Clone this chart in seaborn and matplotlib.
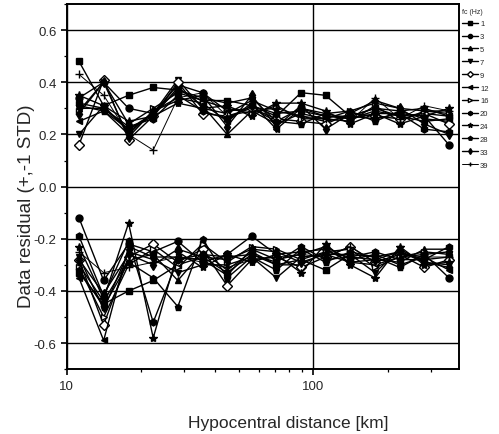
import numpy as np
import pandas as pd
import seaborn as sns
import matplotlib.pyplot as plt
from matplotlib.ticker import MultipleLocator, FixedLocator, NullFormatter

# hypocentral distance bins [km]
distance = [11.2, 14.1, 17.8, 22.4, 28.2, 35.5, 44.7, 56.2, 70.8, 89.1,
            112, 141, 178, 224, 282, 355]
fc = ['1', '3', '5', '7', '9', '12', '16', '20', '24', '28', '33', '39']

# residual mean + 1 STD
upper = {
    '1':  [0.48, 0.31, 0.35, 0.38, 0.37, 0.33, 0.33, 0.31, 0.27, 0.36, 0.35, 0.27, 0.30, 0.27, 0.28, 0.27],
    '3':  [0.34, 0.40, 0.30, 0.28, 0.39, 0.36, 0.29, 0.30, 0.25, 0.30, 0.27, 0.26, 0.28, 0.28, 0.27, 0.16],
    '5':  [0.30, 0.30, 0.22, 0.27, 0.38, 0.31, 0.20, 0.29, 0.24, 0.28, 0.26, 0.25, 0.31, 0.25, 0.29, 0.29],
    '7':  [0.20, 0.31, 0.21, 0.28, 0.41, 0.30, 0.28, 0.33, 0.29, 0.27, 0.25, 0.27, 0.30, 0.29, 0.26, 0.25],
    '9':  [0.16, 0.41, 0.18, 0.27, 0.40, 0.28, 0.27, 0.30, 0.26, 0.25, 0.24, 0.28, 0.27, 0.26, 0.28, 0.24],
    '12': [0.25, 0.29, 0.20, 0.29, 0.34, 0.32, 0.25, 0.32, 0.22, 0.30, 0.28, 0.26, 0.29, 0.27, 0.25, 0.26],
    '16': [0.29, 0.40, 0.24, 0.30, 0.36, 0.33, 0.30, 0.28, 0.31, 0.26, 0.26, 0.29, 0.32, 0.30, 0.29, 0.28],
    '20': [0.32, 0.30, 0.23, 0.26, 0.35, 0.29, 0.26, 0.31, 0.28, 0.29, 0.27, 0.27, 0.26, 0.28, 0.22, 0.21],
    '24': [0.35, 0.31, 0.25, 0.27, 0.32, 0.30, 0.31, 0.27, 0.32, 0.32, 0.29, 0.24, 0.28, 0.24, 0.27, 0.30],
    '28': [0.31, 0.29, 0.22, 0.28, 0.37, 0.34, 0.32, 0.34, 0.25, 0.24, 0.28, 0.29, 0.25, 0.29, 0.30, 0.27],
    '33': [0.28, 0.40, 0.19, 0.29, 0.33, 0.35, 0.23, 0.35, 0.23, 0.31, 0.22, 0.28, 0.33, 0.30, 0.24, 0.20],
    '39': [0.43, 0.35, 0.20, 0.14, 0.34, 0.36, 0.27, 0.29, 0.30, 0.27, 0.26, 0.25, 0.34, 0.26, 0.31, 0.29],
}
# residual mean - 1 STD
lower = {
    '1':  [-0.33, -0.45, -0.40, -0.36, -0.30, -0.27, -0.33, -0.26, -0.30, -0.28, -0.32, -0.26, -0.27, -0.25, -0.28, -0.27],
    '3':  [-0.12, -0.36, -0.22, -0.25, -0.21, -0.29, -0.26, -0.19, -0.26, -0.25, -0.24, -0.29, -0.30, -0.27, -0.26, -0.35],
    '5':  [-0.30, -0.44, -0.28, -0.26, -0.36, -0.25, -0.32, -0.25, -0.30, -0.30, -0.25, -0.27, -0.28, -0.29, -0.24, -0.24],
    '7':  [-0.27, -0.47, -0.25, -0.28, -0.33, -0.30, -0.30, -0.27, -0.35, -0.27, -0.26, -0.26, -0.33, -0.24, -0.29, -0.30],
    '9':  [-0.28, -0.53, -0.27, -0.22, -0.29, -0.24, -0.38, -0.28, -0.27, -0.31, -0.27, -0.23, -0.29, -0.26, -0.31, -0.28],
    '12': [-0.35, -0.59, -0.23, -0.27, -0.27, -0.28, -0.34, -0.24, -0.28, -0.26, -0.23, -0.28, -0.26, -0.30, -0.27, -0.32],
    '16': [-0.31, -0.50, -0.30, -0.24, -0.31, -0.22, -0.29, -0.23, -0.24, -0.28, -0.25, -0.24, -0.31, -0.27, -0.25, -0.26],
    '20': [-0.19, -0.42, -0.21, -0.52, -0.28, -0.26, -0.27, -0.26, -0.29, -0.23, -0.28, -0.27, -0.25, -0.28, -0.28, -0.23],
    '24': [-0.23, -0.43, -0.14, -0.58, -0.25, -0.31, -0.26, -0.29, -0.26, -0.33, -0.22, -0.30, -0.35, -0.23, -0.30, -0.29],
    '28': [-0.32, -0.46, -0.29, -0.35, -0.46, -0.20, -0.35, -0.27, -0.32, -0.24, -0.29, -0.25, -0.27, -0.31, -0.26, -0.25],
    '33': [-0.28, -0.41, -0.26, -0.30, -0.24, -0.27, -0.28, -0.24, -0.25, -0.29, -0.26, -0.29, -0.28, -0.25, -0.29, -0.31],
    '39': [-0.25, -0.33, -0.31, -0.29, -0.27, -0.29, -0.31, -0.28, -0.27, -0.26, -0.27, -0.23, -0.29, -0.26, -0.27, -0.27],
}

markers = {'1': 's', '3': 'o', '5': '^', '7': 'v', '9': 'D', '12': '<',
           '16': '>', '20': 'h', '24': '*', '28': 'p', '33': 'd', '39': '+'}
open_markers = {'9', '16'}

sns.set_style('ticks')
plt.rcParams['font.family'] = ['Liberation Sans', 'DejaVu Sans']

fig = plt.figure(figsize=(4.99, 4.35), dpi=100)
ax = fig.add_axes([0.134, 0.149, 0.786, 0.8395])

for f in fc:
    mfc = 'white' if f in open_markers else 'black'
    lw = 0.7 if f == '39' else 1.0
    ms = 6 if f in ('39', '24') else 5
    for band, lab in ((upper, f), (lower, None)):
        sns.lineplot(x=distance, y=band[f], ax=ax, color='black', lw=lw,
                     marker=markers[f], markersize=ms, markerfacecolor=mfc,
                     markeredgecolor='black', markeredgewidth=1.0,
                     label=lab, legend=False)

ax.set_xscale('log')
ax.set_xlim(10, 390)
ax.set_ylim(-0.7, 0.7)
ax.xaxis.set_major_locator(FixedLocator([10, 100]))
ax.xaxis.set_minor_locator(FixedLocator([20, 30, 40, 50, 60, 70, 80, 90, 200, 300]))
ax.xaxis.set_minor_formatter(NullFormatter())
ax.set_xticklabels(['10', '100'])
ax.yaxis.set_major_locator(MultipleLocator(0.2))
ax.yaxis.set_minor_locator(MultipleLocator(0.1))
ax.yaxis.set_major_formatter(plt.FuncFormatter(lambda v, p: f'{v:.1f}'.replace('-0.0', '0.0')))

ax.grid(True, which='major', axis='both', color='black', lw=1.0)
ax.tick_params(which='major', length=4, width=1.2, labelsize=9.5, color='black')
ax.tick_params(which='minor', length=2.5, width=0.9, color='black')
for s in ax.spines.values():
    s.set_color('black')
    s.set_linewidth(1.4)

ax.set_xlabel('Hypocentral distance [km]', fontsize=12.5)
ax.xaxis.set_label_coords(0.565, -0.125)
ax.set_ylabel('Data residual (+,-1 STD)', fontsize=13.5)
ax.yaxis.set_label_coords(-0.08, 0.45)

handles, labels = ax.get_legend_handles_labels()
leg = ax.legend(handles, labels, title='fc (Hz)', loc='upper left',
                bbox_to_anchor=(0.995, 1.005), frameon=False, fontsize=5.5,
                title_fontsize=5, handlelength=2.0, handletextpad=0.3,
                labelspacing=0.72, borderaxespad=0.3, markerscale=0.6)
leg._legend_box.align = 'left'

fig.savefig('out.png', dpi=100)
